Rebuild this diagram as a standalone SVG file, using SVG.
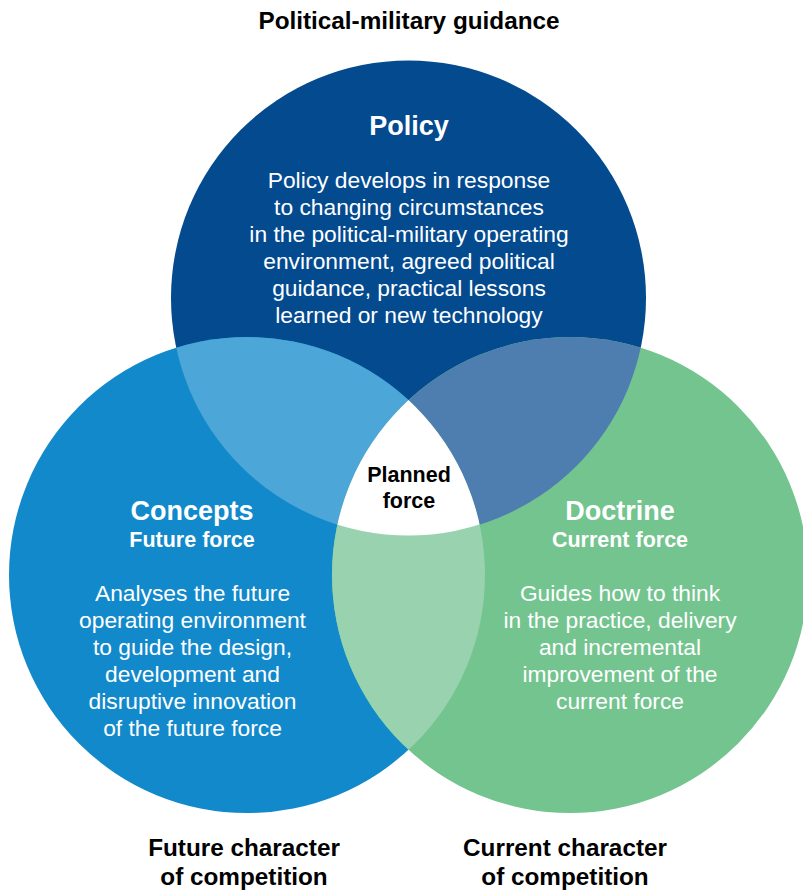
<svg xmlns="http://www.w3.org/2000/svg" width="803" height="893" viewBox="0 0 803 893">
<style>
text{font-family:"Liberation Sans",Arial,Helvetica,sans-serif;text-anchor:middle}
.hd{fill:#000;font-size:24.3px;font-weight:bold}
.ttl{fill:#fff;font-size:27px;font-weight:bold}
.sub{fill:#fff;font-size:21.5px;font-weight:bold}
.body{fill:#fff;font-size:22.8px}
.pf{fill:#000;font-size:21.5px;font-weight:bold}
</style>
<defs>
<circle id="cT" cx="408.5" cy="298" r="237.5"/>
<circle id="cL" cx="247" cy="575" r="238"/>
<circle id="cR" cx="570" cy="575" r="238"/>
<clipPath id="clipT"><use href="#cT"/></clipPath>
<clipPath id="clipL"><use href="#cL"/></clipPath>
</defs>
<rect width="803" height="893" fill="#fff"/>
<g id="policy">
<use href="#cT" fill="#034A8F"/>
</g>
<g id="concepts">
<use href="#cL" fill="#1289CA"/>
</g>
<g id="doctrine">
<use href="#cR" fill="#74C490"/>
</g>
<g id="overlaps">
<use href="#cL" fill="#4CA6D8" clip-path="url(#clipT)"/>
<use href="#cR" fill="#4D7EAF" clip-path="url(#clipT)"/>
<use href="#cR" fill="#98D2AE" clip-path="url(#clipL)"/>
<g clip-path="url(#clipL)"><use href="#cR" fill="#fff" clip-path="url(#clipT)"/></g>
</g>
<g id="connectors"/>
<g id="policy-text">
<text class="ttl" x="409" y="135">Policy</text>
<text class="body" x="409" y="187.5">Policy develops in response</text>
<text class="body" x="409" y="214.5">to changing circumstances</text>
<text class="body" x="409" y="241.5">in the political-military operating</text>
<text class="body" x="409" y="268.5">environment, agreed political</text>
<text class="body" x="409" y="295.5">guidance, practical lessons</text>
<text class="body" x="409" y="322.5">learned or new technology</text>
</g>
<g id="concepts-text">
<text class="ttl" x="192" y="520">Concepts</text>
<text class="sub" x="192" y="547">Future force</text>
<text class="body" x="192.5" y="601">Analyses the future</text>
<text class="body" x="192.5" y="628">operating environment</text>
<text class="body" x="192.5" y="655">to guide the design,</text>
<text class="body" x="192.5" y="682">development and</text>
<text class="body" x="192.5" y="709">disruptive innovation</text>
<text class="body" x="192.5" y="736">of the future force</text>
</g>
<g id="doctrine-text">
<text class="ttl" x="620" y="520">Doctrine</text>
<text class="sub" x="620" y="547">Current force</text>
<text class="body" x="620" y="601">Guides how to think</text>
<text class="body" x="620" y="628">in the practice, delivery</text>
<text class="body" x="620" y="655">and incremental</text>
<text class="body" x="620" y="682">improvement of the</text>
<text class="body" x="620" y="709">current force</text>
</g>
<g id="planned-force">
<text class="pf" x="409" y="482">Planned</text>
<text class="pf" x="409" y="508">force</text>
</g>
<g id="labels">
<text class="hd" x="409" y="28.5">Political-military guidance</text>
<text class="hd" x="244" y="856">Future character</text>
<text class="hd" x="244" y="885">of competition</text>
<text class="hd" x="565" y="856">Current character</text>
<text class="hd" x="565" y="885">of competition</text>
</g>
</svg>
